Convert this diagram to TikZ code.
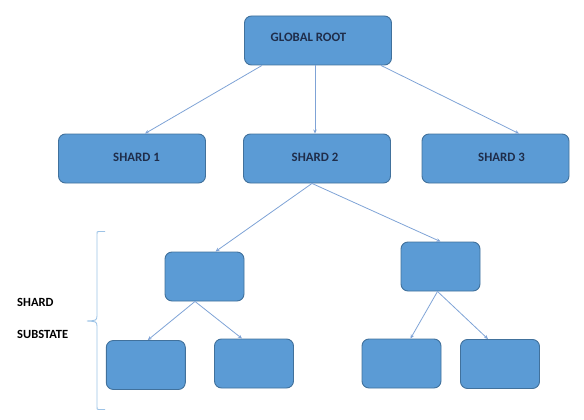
\documentclass[tikz,border=0pt]{standalone}
\usepackage{fontspec}
\setmainfont{Carlito}
\usetikzlibrary{arrows.meta}
\definecolor{boxfill}{HTML}{5B9BD5}
\definecolor{boxline}{HTML}{41719C}
\definecolor{linkcol}{HTML}{7FA3D6}
\definecolor{bracecol}{HTML}{9DC3E6}
\definecolor{txtcol}{HTML}{1F2D4A}
\tikzset{
  box/.style={draw=boxline, fill=boxfill, line width=0.9pt, rounded corners=7pt, inner sep=0pt},
  bigbox/.style={box, minimum width=147pt, minimum height=49pt},
  smallbox/.style={box, minimum width=79pt, minimum height=49pt},
  boxtext/.style={font=\bfseries\fontsize{12.8}{14}\selectfont, text=txtcol, inner sep=0pt},
  sidetext/.style={font=\bfseries\fontsize{12.5}{14}\selectfont, text=black, inner sep=0pt, anchor=west},
  link/.style={draw=linkcol, line width=0.8pt, -{Stealth[length=4pt,width=3.5pt]}}
}
\begin{document}
\begin{tikzpicture}[x=1pt,y=-1pt]
\useasboundingbox (0,0) rectangle (584,420);
% boxes
\node[bigbox] (root) at (318,40.5) {};
\node[bigbox] (s1) at (132,158.5) {};
\node[bigbox] (s2) at (317,158.5) {};
\node[bigbox] (s3) at (495.5,158.5) {};
\node[smallbox] (ml) at (204.5,276.5) {};
\node[smallbox] (mr) at (440.5,266.5) {};
\node[smallbox] (bl1) at (145.8,365) {};
\node[smallbox] (bl2) at (254,363.5) {};
\node[smallbox] (br1) at (401.5,363.5) {};
\node[smallbox] (br2) at (500,364) {};
% texts
\node[boxtext] (troot) at (308.5,37) {GLOBAL ROOT};
\node[boxtext] (ts1) at (136.5,157) {SHARD 1};
\node[boxtext] (ts2) at (315,157) {SHARD 2};
\node[boxtext] (ts3) at (501.5,157) {SHARD 3};
\node[sidetext] (lab1) at (17,302) {SHARD};
\node[sidetext] (lab2) at (17,334) {SUBSTATE};
% connectors
\draw[link] ([xshift=-56pt]root.south) -- ([xshift=13pt]s1.north);
\draw[link] ([xshift=-3pt]root.south) -- ([xshift=-2pt]s2.north);
\draw[link] ([xshift=63pt]root.south) -- ([xshift=23.5pt]s3.north);
\draw[link] ([xshift=-5pt]s2.south) -- ([xshift=11pt]ml.north);
\draw[link] ([xshift=-5pt]s2.south) -- ([xshift=0pt]mr.north);
\draw[link] ([xshift=-9.5pt]ml.south) -- ([xshift=2pt]bl1.north);
\draw[link] ([xshift=-9.5pt]ml.south) -- ([xshift=-12pt]bl2.north);
\draw[link] ([xshift=-3pt]mr.south) -- ([xshift=9pt]br1.north);
\draw[link] ([xshift=-3pt]mr.south) -- ([xshift=-12pt]br2.north);
% brace
\coordinate (bt) at (105,231.5);
\coordinate (bb) at (105,409.5);
\coordinate (bm) at (87,321);
\draw[draw=bracecol, line width=0.9pt]
  (bt) -- (99,231.5) .. controls (97,231.5) .. (97,234) -- (97,316)
  .. controls (96.5,320.5) .. (bm)
  .. controls (96.5,321.5) .. (97,326) -- (97,407)
  .. controls (97,409.5) .. (99,409.5) -- (bb);
\end{tikzpicture}
\end{document}
